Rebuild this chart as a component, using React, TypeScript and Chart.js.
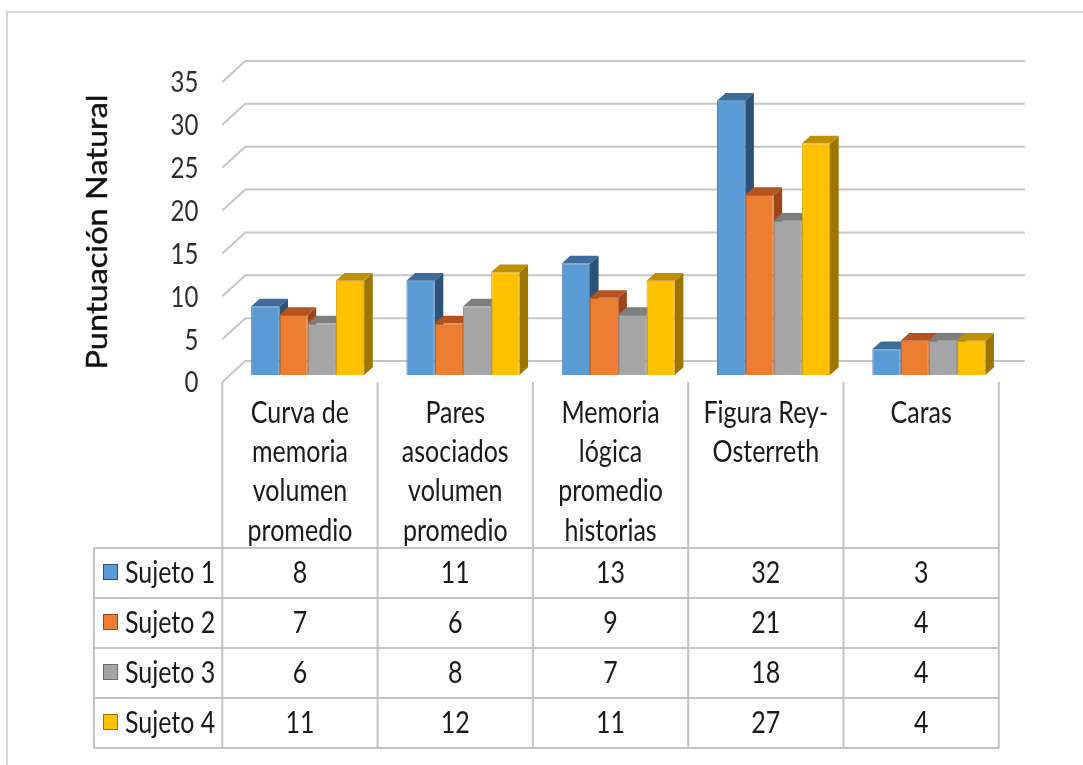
import React, { useEffect, useRef } from "react";
import { Chart, registerables } from "chart.js";

Chart.register(...registerables);

// ---------- data ----------
const categories: string[][] = [
  ["Curva de", "memoria", "volumen", "promedio"],
  ["Pares", "asociados", "volumen", "promedio"],
  ["Memoria", "lógica", "promedio", "historias"],
  ["Figura Rey-", "Osterreth"],
  ["Caras"],
];
const seriesNames = ["Sujeto 1", "Sujeto 2", "Sujeto 3", "Sujeto 4"];
const sujeto1 = [8, 11, 13, 32, 3];
const sujeto2 = [7, 6, 9, 21, 4];
const sujeto3 = [6, 8, 7, 18, 4];
const sujeto4 = [11, 12, 11, 27, 4];
const yTicks = [0, 5, 10, 15, 20, 25, 30, 35];
const yTitle = "Puntuación Natural";

// ---------- styles ----------
const frontColors = ["#5B9BD5", "#ED7D31", "#A5A5A5", "#FFC000"];
const sideColors = ["#2C5278", "#A0441A", "#6A6A6A", "#9C7600"];
const topColors = ["#3C6C9C", "#B5521E", "#7E7E7E", "#BF9000"];
const edgeColors = ["#4A80B5", "#C8631F", "#8E8E8E", "#D9A300"];
const FONT = 'Lato, "Liberation Sans", sans-serif';
const GRID = "#C6C6C6";
const TABLE_LINE = "#C3C3C3";
const TEXT = "#1A1A1A";
const SY = 1.22; // vertical stretch of text

// 3D geometry (px offsets)
const FRONT_DX = -7.7;
const FRONT_DY = 7;
const BACK_DX = 15.3;
const BACK_DY = -14;
const BAR_DX = 8.6;
const BAR_DY = -7.7;

// table layout
const TABLE_TOP = 548;
const ROW_H = 50;
const LEGEND_LEFT = 94;
const HEADER_FIRST = 413;
const HEADER_STEP = 39.3;

function txt(
  ctx: CanvasRenderingContext2D,
  s: string,
  x: number,
  y: number,
  size: number,
  align: CanvasTextAlign,
  color = TEXT
) {
  ctx.save();
  ctx.font = `${size}px ${FONT}`;
  ctx.fillStyle = color;
  ctx.textAlign = align;
  ctx.textBaseline = "middle";
  ctx.translate(x, y);
  ctx.scale(1, SY);
  ctx.fillText(s, 0, 0);
  ctx.restore();
}

const threeD = {
  id: "threeD",
  beforeDraw(chart: any) {
    const ctx: CanvasRenderingContext2D = chart.ctx;
    ctx.save();
    ctx.fillStyle = "#FFFFFF";
    ctx.fillRect(0, 0, chart.width, chart.height);
    ctx.strokeStyle = "#D4D4D4";
    ctx.lineWidth = 2;
    ctx.strokeRect(7, 12, chart.width + 20, chart.height + 20);
    ctx.restore();
  },
  beforeDatasetsDraw(chart: any) {
    const ctx: CanvasRenderingContext2D = chart.ctx;
    const xs = chart.scales.x;
    const ys = chart.scales.y;
    ctx.save();
    ctx.strokeStyle = GRID;
    ctx.lineWidth = 2;
    yTicks.forEach((v) => {
      const py = ys.getPixelForValue(v);
      ctx.beginPath();
      ctx.moveTo(xs.left + FRONT_DX, py + FRONT_DY);
      ctx.lineTo(xs.left + BACK_DX, py + BACK_DY);
      ctx.lineTo(xs.right + BACK_DX + 3, py + BACK_DY);
      ctx.stroke();
    });
    chart.data.datasets.forEach((_ds: any, di: number) => {
      const meta = chart.getDatasetMeta(di);
      meta.data.forEach((bar: any) => {
        const p = bar.getProps(["x", "y", "base", "width"], true);
        const l = p.x - p.width / 2;
        const r = p.x + p.width / 2;
        const top = p.y;
        const base = p.base;
        ctx.fillStyle = sideColors[di];
        ctx.beginPath();
        ctx.moveTo(r, top);
        ctx.lineTo(r + BAR_DX, top + BAR_DY);
        ctx.lineTo(r + BAR_DX, base + BAR_DY);
        ctx.lineTo(r, base);
        ctx.closePath();
        ctx.fill();
        ctx.fillStyle = topColors[di];
        ctx.beginPath();
        ctx.moveTo(l, top);
        ctx.lineTo(l + BAR_DX, top + BAR_DY);
        ctx.lineTo(r + BAR_DX, top + BAR_DY);
        ctx.lineTo(r, top);
        ctx.closePath();
        ctx.fill();
      });
    });
    ctx.restore();
  },
  afterDraw(chart: any) {
    const ctx: CanvasRenderingContext2D = chart.ctx;
    const xs = chart.scales.x;
    const ys = chart.scales.y;
    const cw = xs.width / categories.length;
    const fl = xs.left + FRONT_DX;
    const fr = xs.right + FRONT_DX;
    const top0 = ys.getPixelForValue(0) + FRONT_DY;
    const tableBottom = TABLE_TOP + ROW_H * seriesNames.length;

    // y tick labels
    yTicks.forEach((v) => {
      txt(ctx, String(v), fl - 24, ys.getPixelForValue(v) + FRONT_DY + 1, 24, "right", "#2E2E2E");
    });

    // y title
    ctx.save();
    ctx.font = `29px ${FONT}`;
    ctx.fillStyle = "#111111";
    ctx.strokeStyle = "#111111";
    ctx.lineWidth = 0.4;
    ctx.textAlign = "center";
    ctx.textBaseline = "middle";
    ctx.translate(98, 232);
    ctx.rotate(-Math.PI / 2);
    const w = ctx.measureText(yTitle).width;
    ctx.scale(275 / w, 1);
    ctx.fillText(yTitle, 0, 0);
    ctx.strokeText(yTitle, 0, 0);
    ctx.restore();

    // table lines
    ctx.save();
    ctx.strokeStyle = TABLE_LINE;
    ctx.lineWidth = 2;
    for (let k = 0; k <= categories.length; k++) {
      const xx = fl + k * cw;
      ctx.beginPath();
      ctx.moveTo(xx, top0);
      ctx.lineTo(xx, tableBottom);
      ctx.stroke();
    }
    for (let r = 0; r <= seriesNames.length; r++) {
      const yy = TABLE_TOP + r * ROW_H;
      ctx.beginPath();
      ctx.moveTo(LEGEND_LEFT, yy);
      ctx.lineTo(fr, yy);
      ctx.stroke();
    }
    ctx.beginPath();
    ctx.moveTo(LEGEND_LEFT, TABLE_TOP);
    ctx.lineTo(LEGEND_LEFT, tableBottom);
    ctx.stroke();
    ctx.restore();

    // header labels
    categories.forEach((lines, i) => {
      const cx = xs.getPixelForValue(i) + FRONT_DX;
      lines.forEach((s, j) => {
        txt(ctx, s, cx, HEADER_FIRST + j * HEADER_STEP, 25, "center");
      });
    });

    // rows
    chart.data.datasets.forEach((ds: any, di: number) => {
      const cy = TABLE_TOP + di * ROW_H + ROW_H / 2;
      ctx.save();
      ctx.fillStyle = frontColors[di];
      ctx.strokeStyle = sideColors[di];
      ctx.lineWidth = 1;
      ctx.fillRect(103, cy - 9, 15, 16);
      ctx.strokeRect(103.5, cy - 8.5, 14, 15);
      ctx.restore();
      txt(ctx, ds.label, 125, cy, 25, "left");
      ds.data.forEach((v: number, i: number) => {
        const cx = xs.getPixelForValue(i) + FRONT_DX;
        txt(ctx, String(v), cx, cy, 25, "center");
      });
    });
  },
};

export default function App() {
  const ref = useRef<HTMLCanvasElement | null>(null);
  useEffect(() => {
    document.body.style.margin = "0";
    const canvas = ref.current;
    if (!canvas) return;
    const series = [sujeto1, sujeto2, sujeto3, sujeto4];
    const chart = new Chart(canvas, {
      type: "bar",
      data: {
        labels: categories,
        datasets: series.map((d, i) => ({
          label: seriesNames[i],
          data: d,
          backgroundColor: frontColors[i],
          borderColor: edgeColors[i],
          borderWidth: 1,
          categoryPercentage: 0.728,
          barPercentage: 1,
        })),
      },
      options: {
        responsive: false,
        maintainAspectRatio: false,
        animation: false,
        devicePixelRatio: 1,
        layout: { padding: { left: 230, right: 76.5, top: 75, bottom: 390 } },
        plugins: { legend: { display: false }, tooltip: { enabled: false } },
        scales: {
          x: { display: false, grid: { display: false } },
          y: { display: false, min: 0, max: 35, grid: { display: false } },
        },
      },
      plugins: [threeD],
    });
    return () => chart.destroy();
  }, []);
  return (
    <canvas
      ref={ref}
      width={1083}
      height={765}
      style={{ display: "block", width: 1083, height: 765 }}
    />
  );
}
